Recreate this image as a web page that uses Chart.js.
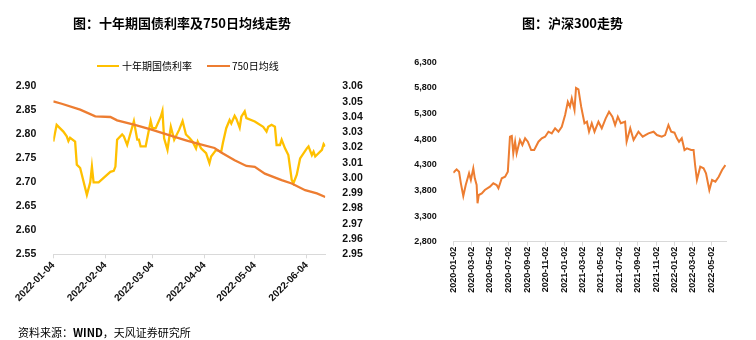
<!DOCTYPE html>
<html><head><meta charset="utf-8">
<script src="https://cdn.jsdelivr.net/npm/chart.js@4/dist/chart.umd.min.js"></script>
<style>
html,body{margin:0;padding:0;background:#fff;}
#wrap{position:relative;width:756px;height:340px;overflow:hidden;font-family:"Noto Sans CJK SC","Noto Sans",sans-serif;color:#000;}
canvas{position:absolute;top:0;}
#c1{left:0;}
#c2{left:380px;}
.title{position:absolute;top:13px;font-weight:bold;font-size:13px;line-height:20px;text-align:center;white-space:nowrap;}
.sw{position:absolute;height:2.5px;}
.lt{position:absolute;font-size:10px;line-height:14px;white-space:nowrap;}
#src{position:absolute;left:18px;top:324px;font-size:11px;line-height:16px;white-space:nowrap;}
</style></head>
<body>
<div id="wrap">
<canvas id="c1" width="380" height="340"></canvas>
<canvas id="c2" width="376" height="340"></canvas>
<div class="title" style="left:0;width:364px;">图：十年期国债利率及750日均线走势</div>
<div class="title" style="left:380px;width:385px;">图：沪深300走势</div>
<div class="sw" style="left:97px;width:22px;top:64.5px;background:#FFC000;"></div>
<div class="lt" style="left:122px;top:58.5px;">十年期国债利率</div>
<div class="sw" style="left:207px;width:23px;top:64.5px;background:#ED7D31;"></div>
<div class="lt" style="left:232px;top:58.5px;">750日均线</div>
<div id="src">资料来源：<b>WIND</b>，天风证券研究所</div>
</div>
<script>
// ---- Data: 10Y treasury yield (left axis) ----
const bondDates = ["2022-01-04","2022-01-06","2022-01-10","2022-01-12","2022-01-13","2022-01-14","2022-01-17","2022-01-18","2022-01-20","2022-01-24","2022-01-26","2022-01-27","2022-01-28","2022-01-31","2022-02-07","2022-02-09","2022-02-10","2022-02-11","2022-02-14","2022-02-15","2022-02-17","2022-02-21","2022-02-23","2022-02-24","2022-02-25","2022-02-28","2022-03-03","2022-03-04","2022-03-06","2022-03-09","2022-03-10","2022-03-11","2022-03-13","2022-03-15","2022-03-17","2022-03-20","2022-03-22","2022-03-24","2022-03-26","2022-03-28","2022-03-30","2022-03-31","2022-04-02","2022-04-05","2022-04-07","2022-04-08","2022-04-11","2022-04-14","2022-04-15","2022-04-17","2022-04-19","2022-04-20","2022-04-22","2022-04-23","2022-04-25","2022-04-26","2022-04-28","2022-04-29","2022-05-04","2022-05-09","2022-05-11","2022-05-12","2022-05-14","2022-05-16","2022-05-17","2022-05-19","2022-05-20","2022-05-22","2022-05-24","2022-05-26","2022-05-27","2022-05-29","2022-05-31","2022-06-04","2022-06-05","2022-06-07","2022-06-08","2022-06-09","2022-06-13","2022-06-14","2022-06-15"];
const bondYield = [2.785,2.820,2.806,2.796,2.786,2.793,2.785,2.737,2.730,2.674,2.700,2.733,2.700,2.700,2.722,2.724,2.733,2.789,2.800,2.796,2.778,2.828,2.789,2.789,2.775,2.775,2.828,2.813,2.813,2.837,2.849,2.792,2.768,2.816,2.789,2.810,2.828,2.800,2.793,2.785,2.771,2.785,2.771,2.761,2.740,2.754,2.768,2.764,2.782,2.813,2.830,2.823,2.839,2.833,2.814,2.837,2.848,2.834,2.827,2.816,2.806,2.816,2.820,2.816,2.778,2.778,2.789,2.771,2.757,2.705,2.698,2.716,2.750,2.771,2.775,2.757,2.764,2.754,2.768,2.780,2.775];
// ---- Data: 750-day moving average (right axis) ----
const maDates = ["2022-01-04","2022-01-09","2022-01-20","2022-01-29","2022-02-07","2022-02-11","2022-02-21","2022-03-03","2022-03-13","2022-03-24","2022-03-31","2022-04-10","2022-04-14","2022-04-22","2022-04-29","2022-05-04","2022-05-10","2022-05-20","2022-05-26","2022-06-03","2022-06-10","2022-06-15"];
const ma750 = [3.0502,3.0487,3.0448,3.0404,3.0400,3.0378,3.0350,3.0319,3.0284,3.0247,3.0225,3.0197,3.0167,3.0116,3.0079,3.0073,3.0029,2.9986,2.9964,2.9920,2.9899,2.9876];
const bondXTicks = ["2022-01-04","2022-02-04","2022-03-04","2022-04-04","2022-05-04","2022-06-04"];
const bondXEnd = "2022-06-15";
const leftYTicks = [2.55,2.60,2.65,2.70,2.75,2.80,2.85,2.90];
const rightYTicks = [2.95,2.96,2.97,2.98,2.99,3.00,3.01,3.02,3.03,3.04,3.05,3.06];

// ---- Data: CSI 300 ----
const hsDates = ["2020-01-02","2020-01-13","2020-01-21","2020-01-27","2020-02-04","2020-02-12","2020-02-23","2020-02-29","2020-03-08","2020-03-13","2020-03-19","2020-03-22","2020-03-26","2020-04-05","2020-04-15","2020-05-02","2020-05-13","2020-05-24","2020-05-30","2020-06-10","2020-06-21","2020-06-30","2020-07-07","2020-07-13","2020-07-18","2020-07-24","2020-07-29","2020-08-09","2020-08-17","2020-08-26","2020-09-04","2020-09-15","2020-09-25","2020-10-09","2020-10-20","2020-10-31","2020-11-11","2020-11-22","2020-12-03","2020-12-14","2020-12-25","2021-01-05","2021-01-14","2021-01-21","2021-01-27","2021-02-05","2021-02-10","2021-02-18","2021-02-27","2021-03-03","2021-03-10","2021-03-18","2021-03-25","2021-04-03","2021-04-12","2021-04-25","2021-05-06","2021-05-19","2021-05-30","2021-06-10","2021-06-19","2021-06-28","2021-07-08","2021-07-22","2021-07-27","2021-08-08","2021-08-19","2021-09-04","2021-09-18","2021-10-07","2021-10-24","2021-11-04","2021-11-20","2021-12-01","2021-12-12","2021-12-21","2022-01-01","2022-01-09","2022-01-16","2022-01-25","2022-02-03","2022-02-11","2022-02-25","2022-03-05","2022-03-10","2022-03-16","2022-03-27","2022-04-07","2022-04-15","2022-04-26","2022-05-05","2022-05-16","2022-05-27","2022-06-07","2022-06-18"];
const hs300 = [4146,4212,4166,3939,3692,3906,4134,4004,4232,4037,3906,3549,3711,3740,3808,3873,3939,3906,3842,4037,4068,4166,4848,4862,4524,4751,4524,4784,4687,4817,4751,4589,4589,4751,4817,4848,4946,4914,5012,4946,5043,5272,5531,5434,5597,5369,5800,5770,5434,5317,5110,5141,4946,5110,4946,5141,5012,5207,5336,5239,5076,5239,5110,5141,4751,5012,4784,4946,4848,4914,4946,4881,4848,4881,5076,4946,4927,4817,4751,4817,4589,4622,4589,4589,4296,4004,4263,4232,4134,3808,4004,3971,4068,4199,4296];
const hsXTicks = ["2020-01-02","2020-03-02","2020-05-02","2020-07-02","2020-09-02","2020-11-02","2021-01-02","2021-03-02","2021-05-02","2021-07-02","2021-09-02","2021-11-02","2022-01-02","2022-03-02","2022-05-02"];
const hsXEnd = "2022-06-20";
const hsYTicks = [2800,3300,3800,4300,4800,5300,5800,6300];

// ---- helpers ----
function dayNum(s, base){
  const p = s.split('-').map(Number), b = base.split('-').map(Number);
  return (Date.UTC(p[0],p[1]-1,p[2]) - Date.UTC(b[0],b[1]-1,b[2]))/86400000;
}
const bondBase = bondXTicks[0], hsBase = hsXTicks[0];
const lblColor = '#111';
const axisGrey = '#d9d9d9';
const fam = '"Liberation Sans", Arial, sans-serif';

new Chart(document.getElementById('c1'), {
  type: 'line',
  data: { datasets: [
    { label: '十年期国债利率', data: bondDates.map((d,i)=>({x: dayNum(d,bondBase), y: bondYield[i]})),
      borderColor: '#FFC000', borderWidth: 2.3, pointRadius: 0, yAxisID: 'y', order: 1, tension: 0 },
    { label: '750日均线', data: maDates.map((d,i)=>({x: dayNum(d,bondBase), y: ma750[i]})),
      borderColor: '#ED7D31', borderWidth: 2.3, pointRadius: 0, yAxisID: 'y1', order: 0, tension: 0 }
  ]},
  options: {
    responsive: false, animation: false, devicePixelRatio: 1, events: [],
    layout: { padding: { top: 86.5, left: 0, right: 0, bottom: 0 } },
    plugins: { legend: { display: false }, tooltip: { enabled: false } },
    scales: {
      x: { type: 'linear', min: 0, max: dayNum(bondXEnd,bondBase),
        afterBuildTicks: s => { s.ticks = bondXTicks.map(d => ({ value: dayNum(d,bondBase) })); },
        afterFit: s => { s.height = 85.7; },
        ticks: { autoSkip: false, minRotation: 45, maxRotation: 45, padding: 1, color: lblColor,
          font: { family: fam, size: 10, weight: 'bold' }, callback: (v,i) => bondXTicks[i] },
        grid: { display: true, drawOnChartArea: false, drawTicks: true, tickLength: 4, color: axisGrey },
        border: { display: true, color: axisGrey, width: 1 } },
      y: { position: 'left', min: 2.55, max: 2.90,
        afterBuildTicks: s => { s.ticks = leftYTicks.map(v => ({ value: v })); },
        afterFit: s => { s.width = 53.3; },
        ticks: { autoSkip: false, padding: 9, color: lblColor, font: { family: fam, size: 10.5, weight: 'bold' }, callback: v => v.toFixed(2) },
        grid: { display: false }, border: { display: false } },
      y1: { position: 'right', min: 2.95, max: 3.06,
        afterBuildTicks: s => { s.ticks = rightYTicks.map(v => ({ value: v })); },
        afterFit: s => { s.width = 54.7; },
        ticks: { autoSkip: false, padding: 9, color: lblColor, font: { family: fam, size: 10.5, weight: 'bold' }, callback: v => v.toFixed(2) },
        grid: { display: false }, border: { display: false } }
    }
  }
});

new Chart(document.getElementById('c2'), {
  type: 'line',
  data: { datasets: [
    { label: '沪深300', data: hsDates.map((d,i)=>({x: dayNum(d,hsBase), y: hs300[i]})),
      borderColor: '#ED7D31', borderWidth: 2, pointRadius: 0, tension: 0 }
  ]},
  options: {
    responsive: false, animation: false, devicePixelRatio: 1, events: [],
    layout: { padding: { top: 62.3, left: 0, right: 30, bottom: 0 } },
    plugins: { legend: { display: false }, tooltip: { enabled: false } },
    scales: {
      x: { type: 'linear', min: 0, max: dayNum(hsXEnd,hsBase),
        afterBuildTicks: s => { s.ticks = hsXTicks.map(d => ({ value: dayNum(d,hsBase) })); },
        afterFit: s => { s.height = 98.3; },
        ticks: { autoSkip: false, minRotation: 90, maxRotation: 90, padding: 1, color: lblColor,
          font: { family: fam, size: 9, weight: 'bold' }, callback: (v,i) => hsXTicks[i] },
        grid: { display: true, drawOnChartArea: false, drawTicks: true, tickLength: 4, color: axisGrey },
        border: { display: true, color: axisGrey, width: 1 } },
      y: { position: 'left', min: 2800, max: 6300,
        afterBuildTicks: s => { s.ticks = hsYTicks.map(v => ({ value: v })); },
        afterFit: s => { s.width = 73.3; },
        ticks: { autoSkip: false, padding: 8.5, color: lblColor, font: { family: fam, size: 9, weight: 'bold' }, callback: v => v.toLocaleString('en-US') },
        grid: { display: false }, border: { display: false } }
    }
  }
});
</script>
</body></html>
